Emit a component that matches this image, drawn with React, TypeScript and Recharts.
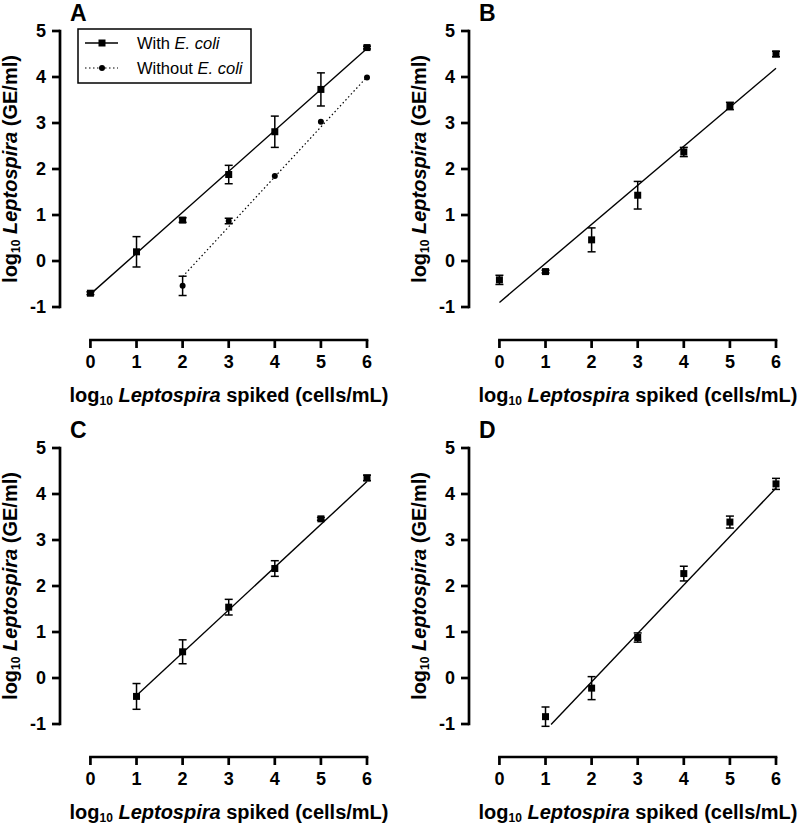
import React from 'react';
import { ScatterChart, Scatter, XAxis, YAxis, ErrorBar, ReferenceLine } from 'recharts';

// ---------- data ----------
const xTicks = [0, 1, 2, 3, 4, 5, 6];
const yTicks = [-1, 0, 1, 2, 3, 4, 5];

// Panel A
const aWithX = [0, 1, 2, 3, 4, 5, 6];
const aWithMean = [-0.7, 0.2, 0.89, 1.88, 2.81, 3.73, 4.64];
const aWithErr = [0.03, 0.33, 0.05, 0.2, 0.34, 0.36, 0.03];
const aWithoutX = [2, 3, 4, 5, 6];
const aWithoutMean = [-0.54, 0.87, 1.85, 3.03, 3.99];
const aWithoutErr = [0.21, 0.06, 0, 0, 0];
const aWithFit = [{ x: 0, y: -0.72 }, { x: 6, y: 4.62 }];
const aWithoutFit = [{ x: 2, y: -0.34 }, { x: 6, y: 4.0 }];

// Panel B
const bX = [0, 1, 2, 3, 4, 5, 6];
const bMean = [-0.41, -0.23, 0.46, 1.43, 2.37, 3.37, 4.5];
const bErr = [0.1, 0.03, 0.26, 0.3, 0.1, 0.08, 0.06];
const bFit = [{ x: 0, y: -0.9 }, { x: 6, y: 4.19 }];

// Panel C
const cX = [1, 2, 3, 4, 5, 6];
const cMean = [-0.4, 0.57, 1.54, 2.38, 3.46, 4.35];
const cErr = [0.28, 0.26, 0.17, 0.17, 0.03, 0.06];
const cFit = [{ x: 1, y: -0.38 }, { x: 6, y: 4.27 }];

// Panel D
const dX = [1, 2, 3, 4, 5, 6];
const dMean = [-0.84, -0.22, 0.88, 2.27, 3.39, 4.22];
const dErr = [0.21, 0.25, 0.1, 0.16, 0.13, 0.12];
const dFit = [{ x: 1.12, y: -1.01 }, { x: 6, y: 4.13 }];

// ---------- layout ----------
const FONT = '"Liberation Sans", Arial, Helvetica, sans-serif';
const PANEL_W = 400;
const PANEL_H = 410;
const X_MIN = -0.66;
const Y_MIN = -1.717;
const AXIS_W = 2.7;

type Pt = { x: number; y: number; err: number };
const rows = (xs: number[], ys: number[], es: number[]): Pt[] =>
  xs.map((x, i) => ({ x, y: ys[i], err: es[i] }));

const Square = (props: any) => {
  const { cx, cy } = props;
  if (cx == null || cy == null) return null;
  return <rect x={cx - 3.5} y={cy - 3.5} width={7} height={7} fill="#000" />;
};
const Dot = (props: any) => {
  const { cx, cy } = props;
  if (cx == null || cy == null) return null;
  return <circle cx={cx} cy={cy} r={3} fill="#000" />;
};

const tickStyle = { fill: '#000', fontSize: 18, fontWeight: 700, fontFamily: FONT };
const tickLineStyle = { stroke: '#000', strokeWidth: AXIS_W };

type Series = { data: Pt[]; shape: any; name: string };
type Fit = { seg: { x: number; y: number }[]; dash?: string };

const Sub = () => (
  <span style={{ fontSize: 12, position: 'relative', top: 3 }}>10</span>
);
const AxisTitle = () => (
  <>
    log<Sub /> <i>Leptospira</i> spiked (cells/mL)
  </>
);
const YTitle = () => (
  <>
    log<Sub /> <i>Leptospira</i> (GE/ml)
  </>
);

function Legend() {
  return (
    <svg
      width={176}
      height={58}
      style={{ position: 'absolute', left: 77, top: 27, overflow: 'visible' }}
    >
      <rect x={1} y={2} width={173} height={54} fill="#fff" stroke="#000" strokeWidth={1.5} />
      <line x1={8} y1={16} x2={41} y2={16} stroke="#000" strokeWidth={1.4} />
      <rect x={21.5} y={12.5} width={7} height={7} fill="#000" />
      <text x={60} y={22} fontSize={16.5} fontFamily={FONT} fill="#000">
        With <tspan fontStyle="italic">E. coli</tspan>
      </text>
      <line x1={8} y1={41} x2={41} y2={41} stroke="#000" strokeWidth={1.2} strokeDasharray="1.5 2.5" />
      <circle cx={25} cy={41} r={3} fill="#000" />
      <text x={60} y={47} fontSize={16.5} fontFamily={FONT} fill="#000">
        Without <tspan fontStyle="italic">E. coli</tspan>
      </text>
    </svg>
  );
}

function Panel({
  left,
  top,
  letter,
  series,
  fits,
  legend,
}: {
  left: number;
  top: number;
  letter: string;
  series: Series[];
  fits: Fit[];
  legend?: boolean;
}) {
  return (
    <div style={{ position: 'absolute', left, top, width: PANEL_W, height: PANEL_H }}>
      <ScatterChart
        width={PANEL_W}
        height={PANEL_H}
        margin={{ top: 31, right: 33, bottom: 30, left: 0 }}
      >
        <XAxis
          type="number"
          dataKey="x"
          domain={[X_MIN, 6]}
          ticks={xTicks}
          interval={0}
          axisLine={false}
          tickLine={tickLineStyle}
          tickSize={8}
          tickMargin={7}
          tick={tickStyle}
          height={40}
        />
        <YAxis
          type="number"
          dataKey="y"
          domain={[Y_MIN, 5]}
          ticks={yTicks}
          interval={0}
          axisLine={false}
          tickLine={tickLineStyle}
          tickSize={8}
          tickMargin={6}
          tick={tickStyle}
          width={60}
        />
        <ReferenceLine
          segment={[{ x: X_MIN, y: -1 }, { x: X_MIN, y: 5 }]}
          stroke="#000"
          strokeWidth={AXIS_W}
          strokeLinecap="square"
          ifOverflow="visible"
        />
        <ReferenceLine
          segment={[{ x: 0, y: Y_MIN }, { x: 6, y: Y_MIN }]}
          stroke="#000"
          strokeWidth={AXIS_W}
          strokeLinecap="square"
          ifOverflow="visible"
        />
        {fits.map((f, i) => (
          <ReferenceLine
            key={'fit' + i}
            segment={f.seg}
            stroke="#000"
            strokeWidth={f.dash ? 1.2 : 1.4}
            strokeDasharray={f.dash}
            ifOverflow="visible"
          />
        ))}
        {series.map((s) => (
          <Scatter
            key={s.name}
            name={s.name}
            data={s.data}
            shape={s.shape}
            isAnimationActive={false}
          >
            <ErrorBar dataKey="err" direction="y" width={4} stroke="#000" strokeWidth={1.5} />
          </Scatter>
        ))}
      </ScatterChart>
      <div
        style={{
          position: 'absolute',
          left: 70,
          top: 0,
          fontSize: 23,
          fontWeight: 700,
          lineHeight: '26px',
          fontFamily: FONT,
        }}
      >
        {letter}
      </div>
      <div
        style={{
          position: 'absolute',
          left: 229,
          top: 385,
          transform: 'translateX(-50%)',
          whiteSpace: 'nowrap',
          fontSize: 20,
          fontWeight: 700,
          lineHeight: '20px',
          fontFamily: FONT,
        }}
      >
        <AxisTitle />
      </div>
      <div
        style={{
          position: 'absolute',
          left: 11,
          top: 169,
          transform: 'translate(-50%, -50%) rotate(-90deg)',
          whiteSpace: 'nowrap',
          fontSize: 20,
          fontWeight: 700,
          lineHeight: '20px',
          fontFamily: FONT,
        }}
      >
        <YTitle />
      </div>
      {legend && <Legend />}
    </div>
  );
}

export default function App() {
  return (
    <div
      style={{
        position: 'absolute',
        left: 0,
        top: 0,
        width: 799,
        height: 825,
        background: '#fff',
        fontFamily: FONT,
        overflow: 'hidden',
      }}
    >
      <Panel
        left={0}
        top={0}
        letter="A"
        legend
        series={[
          { name: 'With E. coli', data: rows(aWithX, aWithMean, aWithErr), shape: Square },
          { name: 'Without E. coli', data: rows(aWithoutX, aWithoutMean, aWithoutErr), shape: Dot },
        ]}
        fits={[{ seg: aWithFit }, { seg: aWithoutFit, dash: '1.5 2.5' }]}
      />
      <Panel
        left={409}
        top={0}
        letter="B"
        series={[{ name: 'B', data: rows(bX, bMean, bErr), shape: Square }]}
        fits={[{ seg: bFit }]}
      />
      <Panel
        left={0}
        top={417}
        letter="C"
        series={[{ name: 'C', data: rows(cX, cMean, cErr), shape: Square }]}
        fits={[{ seg: cFit }]}
      />
      <Panel
        left={409}
        top={417}
        letter="D"
        series={[{ name: 'D', data: rows(dX, dMean, dErr), shape: Square }]}
        fits={[{ seg: dFit }]}
      />
    </div>
  );
}
